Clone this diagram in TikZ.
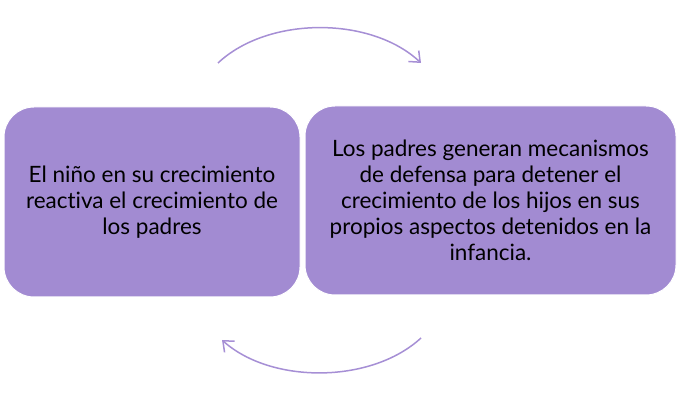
\documentclass[tikz,border=0pt]{standalone}
\usepackage{fontspec}
\setmainfont{Lato}[Ligatures=NoCommon]
\usetikzlibrary{arrows.meta,positioning}
\definecolor{lilac}{RGB}{162,139,210}
\definecolor{lilacline}{RGB}{166,143,213}

\begin{document}
\begin{tikzpicture}[x=1pt,y=-1pt,
    box/.style={fill=lilac,draw=white,line width=1pt,rounded corners=30pt,align=center,
      font=\fontsize{22.5}{26}\selectfont,inner sep=0pt},
    turn/.style={lilacline,line width=1.5pt,-{Straight Barb[length=9pt,width=15pt]}}]
    \useasboundingbox (0,0) rectangle (686,403);
    \node[box,minimum width=296pt,minimum height=190pt] (child) at (152,202)
      {El niño en su crecimiento\\reactiva el crecimiento de\\los padres};
    \node[box,minimum width=371pt,minimum height=189pt] (parents) at (490.5,200.5)
      {Los padres generan mecanismos\\de defensa para detener el\\crecimiento de los hijos en sus\\propios aspectos detenidos en la\\infancia.};
    % arcs between the two boxes
    \coordinate (topstart) at (218,63);
    \coordinate (topend) at (421,63);
    \coordinate (botstart) at (421,338);
    \coordinate (botend) at (222,340);
    \draw[turn] (topstart) .. controls (268,16) and (371,16) .. (topend);
    \draw[turn] (botstart) .. controls (371,384) and (271,384) .. (botend);
  \end{tikzpicture}
\end{document}
